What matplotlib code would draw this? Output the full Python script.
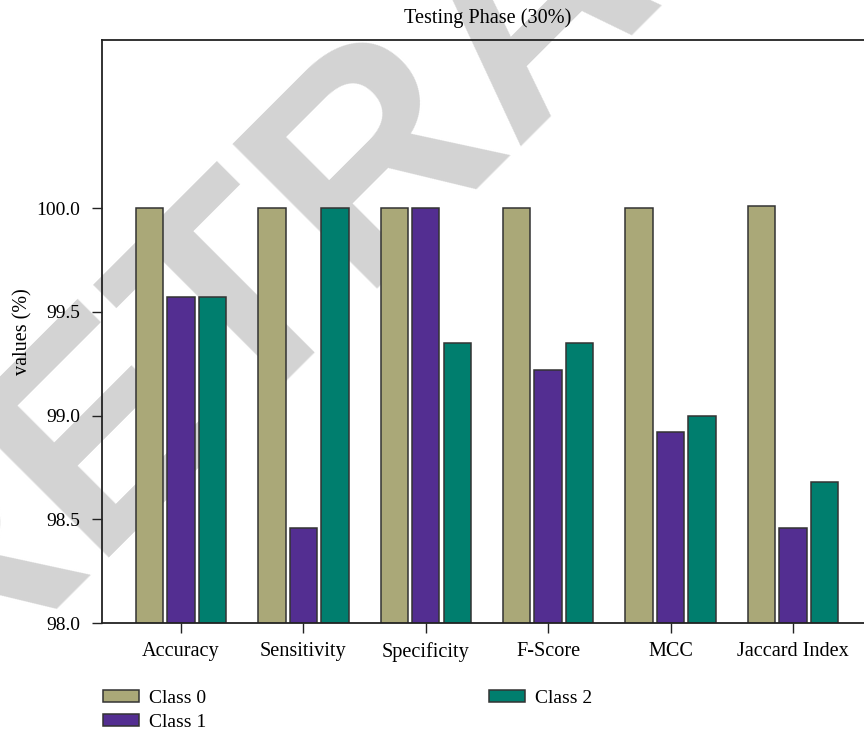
import numpy as np
import matplotlib
matplotlib.use("Agg")
import matplotlib.pyplot as plt
from matplotlib.patches import Patch

# Per-class metrics for the testing phase (30%)
metrics = ["Accuracy", "Sensitivity", "Specificity", "F-Score", "MCC", "Jaccard Index"]
class0 = [100.00, 100.00, 100.00, 100.00, 100.00, 100.01]
class1 = [99.57, 98.46, 100.00, 99.22, 98.92, 98.46]
class2 = [99.57, 100.00, 99.35, 99.35, 99.00, 98.68]
class_names = ["Class 0", "Class 1", "Class 2"]
colors = ["#aaa878", "#532e91", "#007e6e"]

plt.rcParams["font.family"] = ["Liberation Serif", "DejaVu Serif"]
FS = 14

fig = plt.figure(figsize=(8.64, 7.31), dpi=100)
ax = fig.add_axes([102 / 864, 1 - 623 / 731, 1 - 102 / 864, (623 - 40) / 731])
ax.set_facecolor("none")

# Background stamp
fig.text(-62 / 864, 1 - 709 / 731, "RETRACTED", rotation=45, rotation_mode="anchor",
         ha="left", va="baseline", fontsize=214, fontweight="bold",
         family="Liberation Sans", color="#d3d3d3", zorder=-5)

x = np.arange(len(metrics))
width = 0.224
offset = 0.257
for i, (vals, name, col) in enumerate(zip([class0, class1, class2], class_names, colors)):
    ax.bar(x + (i - 1) * offset, vals, width, color=col, edgecolor="#333333",
           linewidth=1.1, label=name, zorder=2)

ax.set_xlim(-0.645, 5.58)
ax.set_ylim(98.0, 100.81)
ax.set_yticks([98.0, 98.5, 99.0, 99.5, 100.0])
ax.set_yticklabels(["98.0", "98.5", "99.0", "99.5", "100.0"])
ax.set_xticks(x)
ax.set_xticklabels(metrics)
ax.tick_params(axis="both", labelsize=FS, direction="out", length=7, width=1, color="#222222")
ax.tick_params(axis="x", pad=6.5, labelsize=FS + 0.6)
ax.tick_params(axis="y", pad=8.5)
for s in ["left", "bottom", "top"]:
    ax.spines[s].set_linewidth(1.3)
    ax.spines[s].set_color("#222222")
ax.spines["right"].set_visible(False)

ax.set_ylabel("values (%)", fontsize=FS + 0.5, labelpad=3)
ax.set_title("Testing Phase (30%)", fontsize=FS + 0.6, pad=12, x=0.506)

handles = [Patch(facecolor=c, edgecolor="#333333", linewidth=1.1) for c in colors]
fig.legend(handles, class_names, ncol=2, loc="upper left",
           bbox_to_anchor=(95 / 864, 1 - 682 / 731), frameon=False, fontsize=FS,
           handlelength=1.85, handleheight=0.55, handletextpad=0.55,
           columnspacing=14.5, labelspacing=0.36, borderaxespad=0)

fig.savefig("out.png", dpi=100)
